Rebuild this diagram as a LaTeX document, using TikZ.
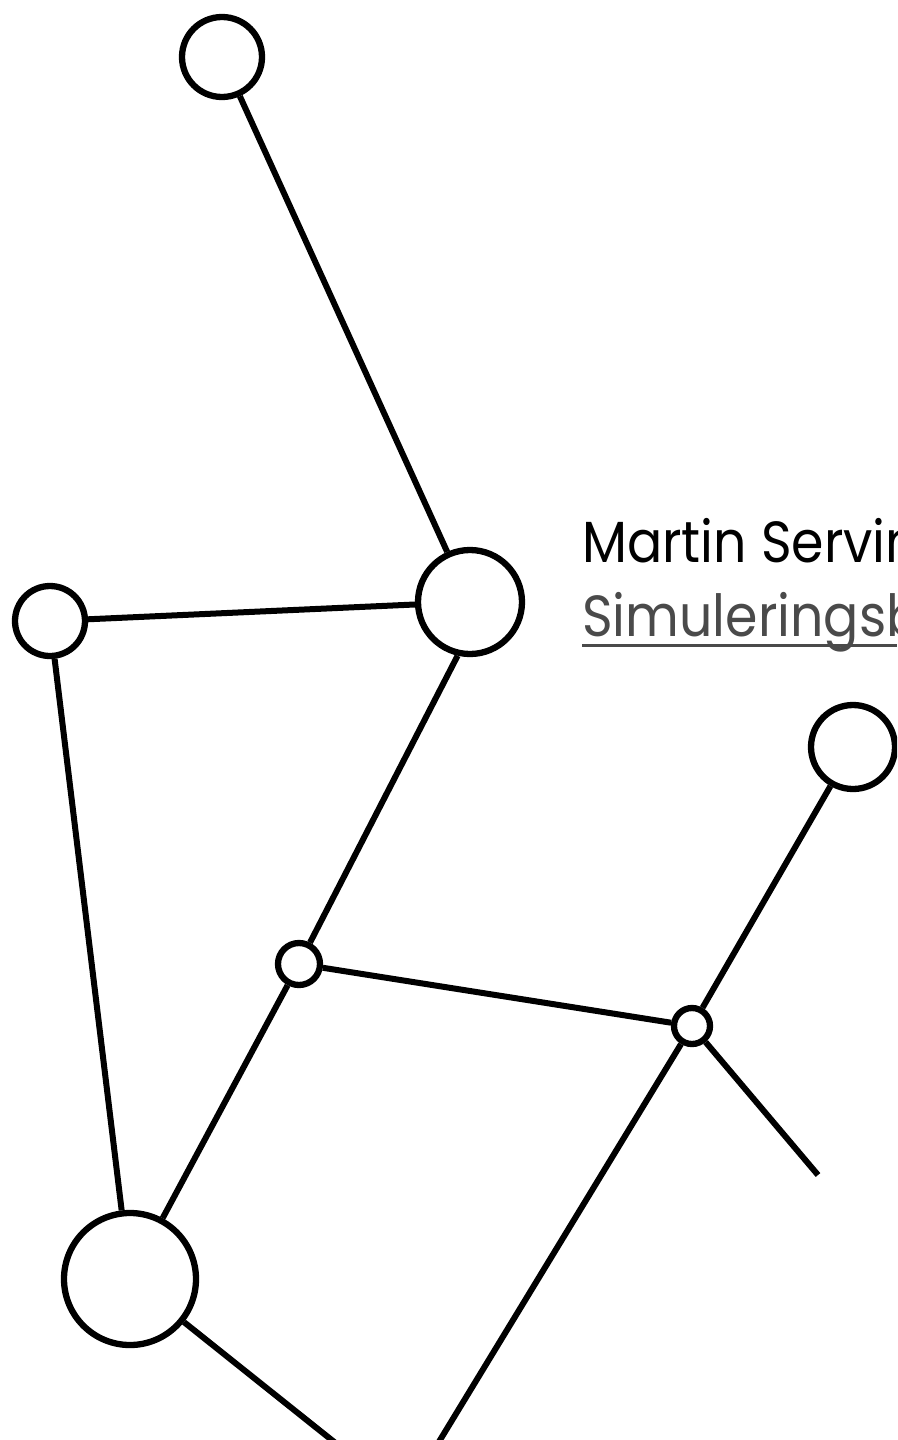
\documentclass[tikz,border=0pt]{standalone}
\usepackage{fontspec}
\setmainfont{Poppins}
\newfontfamily\labelfont[FakeStretch=0.9]{Poppins}
\definecolor{linkgray}{HTML}{4A4A4A}
\begin{document}
\begin{tikzpicture}[x=1pt,y=-1pt,
  nd/.style={circle,draw=black,line width=6.3pt,fill=white,inner sep=0pt},
  ed/.style={line width=6pt,black}]
\useasboundingbox (0,0) rectangle (897,1440);
\clip (0,0) rectangle (897,1440);
\node[nd,minimum size=80pt] (A) at (222,57) {};
\node[nd,minimum size=104pt] (B) at (470,602) {};
\node[nd,minimum size=70pt] (C) at (50,621) {};
\node[nd,minimum size=42pt] (D) at (299,964) {};
\node[nd,minimum size=36pt] (E) at (692,1026) {};
\node[nd,minimum size=84pt] (F) at (853,747) {};
\node[nd,minimum size=132pt] (G) at (130,1279) {};
\coordinate (e1) at (818,1175);
\coordinate (g1) at (338,1445);
\coordinate (e2) at (437,1445);
\draw[ed] (A) -- (B);
\draw[ed] (C) -- (B);
\draw[ed] (C) -- (G);
\draw[ed] (B.-103) -- (D);
\draw[ed] (D) -- (G);
\draw[ed] (D) -- (E);
\draw[ed] (E) -- (F);
\draw[ed] (E) -- (e1);
\draw[ed] (G) -- (g1);
\draw[ed] (E) -- (e2);
\node[anchor=base west,inner sep=0pt,font=\labelfont\fontsize{58}{62}\selectfont] (t1) at (582,562) {Martin Servin};
\node[anchor=base west,inner sep=0pt,text=linkgray,font=\labelfont\fontsize{58}{62}\selectfont] (t2) at (582,636) {Simuleringsbaserad};
\draw[linkgray,line width=3pt] (582,645) -- (897,645);
\end{tikzpicture}
\end{document}
